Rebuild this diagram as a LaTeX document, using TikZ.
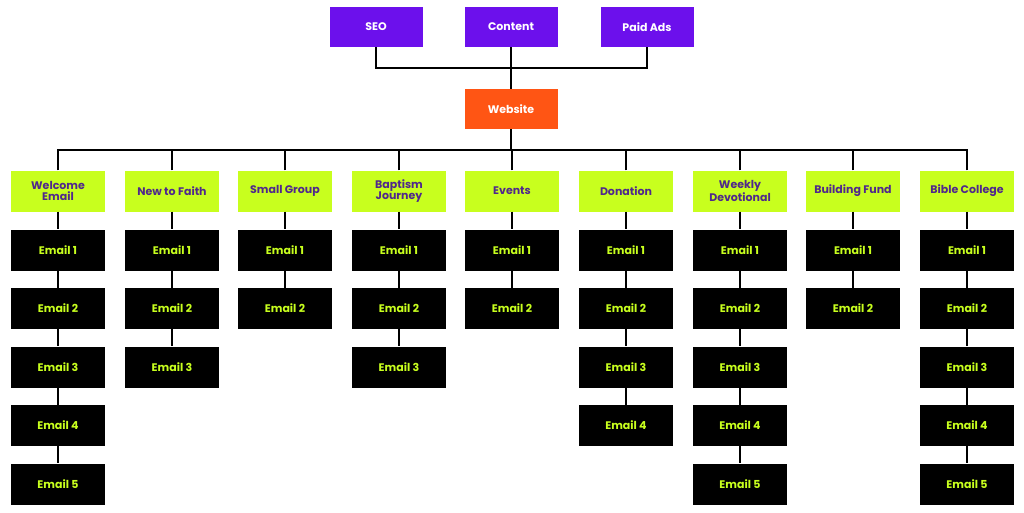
\documentclass[tikz,border=0pt]{standalone}
\usepackage{fontspec}
\setmainfont{Poppins}
\usetikzlibrary{positioning}
\definecolor{seopurple}{RGB}{108,16,236}
\definecolor{siteorange}{RGB}{255,85,20}
\definecolor{flowlime}{RGB}{200,255,30}
\definecolor{flowtext}{RGB}{80,40,140}

\begin{document}
\begin{tikzpicture}[
    x=1pt,y=-1pt,
    source/.style={fill=seopurple,text=white,minimum width=93pt,minimum height=40pt,font=\fontsize{11}{12}\selectfont\bfseries,inner sep=0pt},
    site/.style={fill=siteorange,text=white,minimum width=93pt,minimum height=40pt,font=\fontsize{11}{12}\selectfont\bfseries,inner sep=0pt},
    flow/.style={fill=flowlime,text=flowtext,minimum width=94pt,minimum height=41pt,align=center,font=\fontsize{11}{11}\selectfont\bfseries,inner sep=0pt},
    mail/.style={fill=black,text=flowlime,minimum width=94pt,minimum height=41pt,font=\fontsize{11}{12}\selectfont\bfseries,inner sep=0pt},
    link/.style={line width=2.2pt,black}
]
\useasboundingbox (0,0) rectangle (1024,512);

% Traffic sources
\node[source] (seo) at (376,27) {SEO};
\node[source] (content) at (511,27) {Content};
\node[source] (ads) at (647,27) {Paid Ads};

% Website
\node[site] (site) at (511,109) {Website};
\coordinate (join) at (511,68);
\draw[link] (seo.south) |- (join) -| (ads.south);
\draw[link] (content.south) -- (site.north);

% Email flows
\coordinate (bus) at (511,150);
\draw[link] (site.south) -- (bus);
\foreach \i/\x/\name/\n in {1/58/{Welcome\\Email}/5, 2/172/{New to Faith}/3, 3/285/{Small Group}/2,
    4/399/{Baptism\\Journey}/3, 5/512/{Events}/2, 6/626/{Donation}/4,
    7/740/{Weekly\\Devotional}/5, 8/853/{Building Fund}/2, 9/967/{Bible College}/5}{
  \node[flow] (flow\i) at (\x,191) {\name};
  \draw[link] (flow\i.north) |- (bus);
  \coordinate (prev) at (flow\i.south);
  \foreach \k in {1,...,\n}{
    \node[mail] (mail\i-\k) at (\x,250+58.5*\k-58.5) {Email \k};
    \draw[link] (prev) -- (mail\i-\k.north);
    \coordinate (prev) at (mail\i-\k.south);
  }
}
\end{tikzpicture}
\end{document}
